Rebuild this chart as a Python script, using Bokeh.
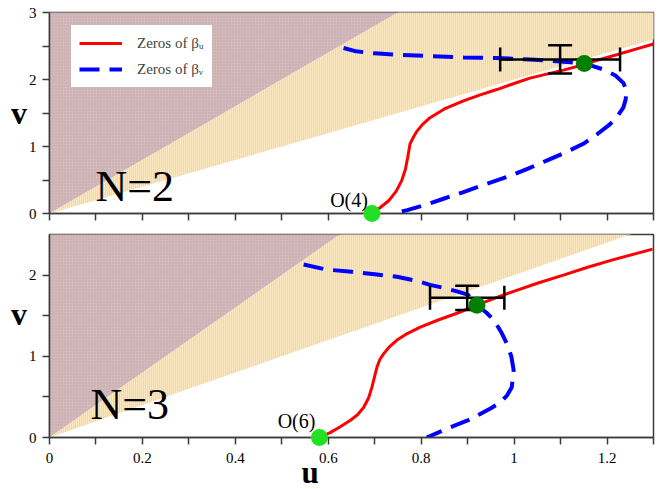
from bokeh.plotting import figure
from bokeh.layouts import column
from bokeh.models import (ColumnDataSource, FixedTicker, Whisker, TeeHead, Label, Title,
                          Legend, LegendItem, NumeralTickFormatter)
from bokeh.embed import file_html
from bokeh.resources import INLINE
from bokeh.core.properties import value

# Wedge boundaries v = slope * u
upper_slope = 4.0
lower_slope = 2.0

# Axis ticks
u_major = [0, 0.2, 0.4, 0.6, 0.8, 1.0, 1.2]
u_minor = [0.1, 0.3, 0.5, 0.7, 0.9, 1.1, 1.3]
v_major_n2 = [0, 1, 2, 3]
v_minor_n2 = [0.5, 1.5, 2.5]
v_major_n3 = [0, 1, 2]
v_minor_n3 = [0.5, 1.5]

# ---- N = 2 ----
n2_red_u = [0.694, 0.712, 0.730, 0.746, 0.758, 0.766, 0.771, 0.776, 0.784, 0.791, 0.803,
            0.819, 0.850, 0.891, 0.927, 0.963, 1.000, 1.034, 1.070, 1.106, 1.149, 1.185,
            1.221, 1.260, 1.300]
n2_red_v = [0.00, 0.09, 0.19, 0.33, 0.49, 0.66, 0.84, 1.04, 1.15, 1.23, 1.33,
            1.43, 1.56, 1.68, 1.77, 1.85, 1.94, 2.02, 2.08, 2.14, 2.22, 2.30,
            2.37, 2.45, 2.53]
n2_blue_u = [0.633, 0.660, 0.700, 0.748, 0.820, 0.891, 0.960, 1.034, 1.100, 1.151, 1.192,
             1.218, 1.235, 1.242, 1.240, 1.235, 1.222, 1.206, 1.180, 1.149, 1.110, 1.070,
             1.030, 0.991, 0.940, 0.891, 0.848, 0.805, 0.770, 0.740]
n2_blue_v = [2.47, 2.42, 2.39, 2.37, 2.35, 2.33, 2.32, 2.30, 2.27, 2.24, 2.15,
             2.06, 1.95, 1.83, 1.70, 1.58, 1.45, 1.33, 1.19, 1.04, 0.91, 0.79,
             0.67, 0.56, 0.44, 0.32, 0.22, 0.12, 0.05, 0.00]
n2_origin = (0.694, 0.0)
n2_fixed = (1.151, 2.24)
n2_est = (1.099, 2.30)
n2_err = (0.129, 0.21)

# ---- N = 3 ----
n3_red_u = [0.581, 0.604, 0.625, 0.647, 0.663, 0.676, 0.687, 0.694, 0.700, 0.705, 0.711,
            0.719, 0.732, 0.748, 0.770, 0.798, 0.838, 0.877, 0.920, 0.960, 0.999, 1.050,
            1.106, 1.160, 1.214, 1.298]
n3_red_v = [0.00, 0.06, 0.13, 0.21, 0.28, 0.37, 0.49, 0.62, 0.76, 0.87, 0.96,
            1.03, 1.12, 1.20, 1.28, 1.36, 1.45, 1.53, 1.63, 1.72, 1.80, 1.90,
            2.00, 2.10, 2.19, 2.32]
n3_blue_u = [0.547, 0.594, 0.650, 0.700, 0.748, 0.790, 0.819, 0.850, 0.877, 0.900, 0.920,
             0.940, 0.956, 0.972, 0.984, 0.994, 0.999, 0.995, 0.985, 0.970, 0.950, 0.927,
             0.900, 0.869, 0.840, 0.812]
n3_blue_v = [2.13, 2.07, 2.04, 2.01, 1.98, 1.93, 1.88, 1.84, 1.80, 1.76, 1.63,
             1.54, 1.45, 1.30, 1.16, 1.00, 0.83, 0.62, 0.52, 0.43, 0.36, 0.29,
             0.21, 0.14, 0.07, 0.00]
n3_origin = (0.581, 0.0)
n3_fixed = (0.920, 1.63)
n3_est = (0.899, 1.72)
n3_err = (0.080, 0.15)

SERIF = "Liberation Serif"
FRAME = "#3c3c3c"
RED = "#ff0000"
BLUE = "#0000ff"
LIME = "#22e022"
DARK_GREEN = "#008000"


def make_panel(v_top, v_major, v_minor, frame_h, top_border, bottom_border, show_u_labels, v_label):
    p = figure(x_range=(0, 1.3), y_range=(0, v_top), frame_width=604, frame_height=frame_h,
               min_border_left=49, min_border_right=7, min_border_top=top_border,
               min_border_bottom=bottom_border, output_backend="svg", toolbar_location=None,
               background_fill_color="white", border_fill_color="white")
    p.grid.visible = False
    p.outline_line_color = FRAME
    p.outline_line_width = 1.5

    if show_u_labels:
        p.xaxis.ticker = FixedTicker(ticks=u_major, minor_ticks=u_minor)
        p.xaxis.formatter = NumeralTickFormatter(format="0.[0]")
    else:
        p.xaxis.ticker = FixedTicker(ticks=[], minor_ticks=u_major + u_minor)
    p.yaxis.ticker = FixedTicker(ticks=v_major, minor_ticks=v_minor)
    p.yaxis.formatter = NumeralTickFormatter(format="0")

    for ax in (p.xaxis[0], p.yaxis[0]):
        ax.axis_line_color = FRAME
        ax.axis_line_width = 1.5
        ax.major_tick_line_color = FRAME
        ax.minor_tick_line_color = FRAME
        ax.major_tick_line_width = 1.5
        ax.minor_tick_line_width = 1.5
        ax.major_tick_in = 0
        ax.minor_tick_in = 0
        ax.major_tick_out = 7
        ax.minor_tick_out = 7
        ax.major_label_text_font = SERIF
        ax.major_label_text_font_size = "15px"
        ax.major_label_text_color = "black"
    p.xaxis.major_label_standoff = 8
    p.yaxis.major_label_standoff = 6

    # vertical-axis name, written upright
    p.yaxis.axis_label = v_label
    p.yaxis.axis_label_orientation = "horizontal"
    p.yaxis.axis_label_standoff = -1
    p.yaxis.axis_label_text_font = SERIF
    p.yaxis.axis_label_text_font_size = "32px"
    p.yaxis.axis_label_text_font_style = "bold"
    p.yaxis.axis_label_text_color = "black"

    # shaded wedges, clipped by the frame
    far = 2.0
    p.patch([0, far, 0], [0, upper_slope * far, upper_slope * far],
            fill_color="#d3b9bc", line_color=None,
            hatch_pattern="dot", hatch_color="#b3969a", hatch_scale=3, hatch_weight=1.2,
            hatch_alpha=0.5)
    p.patch([0, far, far], [0, lower_slope * far, upper_slope * far],
            fill_color="#fbe8c0", line_color=None,
            hatch_pattern="vertical_line", hatch_color="#efbb5e", hatch_scale=2,
            hatch_weight=1.0, hatch_alpha=0.75)
    return p


def add_curves(p, ru, rv, bu, bv, origin, fixed, est, err, tag, tag_dy):
    r_red = p.line(ru, rv, line_color=RED, line_width=3)
    r_blue = p.line(bu, bv, line_color=BLUE, line_width=4, line_dash="20 10")

    src = ColumnDataSource(dict(u=[est[0]], v=[est[1]],
                                ulo=[est[0] - err[0]], uhi=[est[0] + err[0]],
                                vlo=[est[1] - err[1]], vhi=[est[1] + err[1]]))
    for dim, base, lo, hi in (("width", "v", "ulo", "uhi"), ("height", "u", "vlo", "vhi")):
        w = Whisker(base=base, lower=lo, upper=hi, dimension=dim, source=src,
                    line_color="black", line_width=2.5, level="annotation",
                    upper_head=TeeHead(size=24, line_width=2.5, line_color="black"),
                    lower_head=TeeHead(size=24, line_width=2.5, line_color="black"))
        p.add_layout(w)

    p.scatter([origin[0]], [origin[1]], size=17, fill_color=LIME, line_color=None, level="overlay")
    p.scatter([fixed[0]], [fixed[1]], size=17, fill_color=DARK_GREEN, line_color=None, level="overlay")
    p.text([origin[0]], [origin[1]], text=[tag], text_align="right", text_baseline="alphabetic",
           x_offset=-4, y_offset=tag_dy, text_font=value(SERIF), text_font_size="20px",
           text_color="black", level="overlay")
    return r_red, r_blue


top = make_panel(3, v_major_n2, v_minor_n2, 201, 12, 12, False, "v")
red2, blue2 = add_curves(top, n2_red_u, n2_red_v, n2_blue_u, n2_blue_v,
                         n2_origin, n2_fixed, n2_est, n2_err, "O(4)", -14)
top.add_layout(Label(x=0.099, y=0.41, text="N=2", text_font=SERIF, text_font_size="44px",
                     text_baseline="alphabetic", text_color="black"))

legend = Legend(items=[LegendItem(label="Zeros of βᵤ", renderers=[red2]),
                       LegendItem(label="Zeros of βᵥ", renderers=[blue2])],
                location=(22, 126), label_text_font=SERIF, label_text_font_size="15px",
                glyph_width=43, glyph_height=20, label_height=20, label_standoff=15,
                padding=8, spacing=6, margin=0, border_line_alpha=0,
                background_fill_color="white", background_fill_alpha=1.0)
top.add_layout(legend)

# the lower panel's "v" sits a little above the middle of its axis
bottom = make_panel(2.5, v_major_n3, v_minor_n3, 203, 9, 52, True, "v\n")
add_curves(bottom, n3_red_u, n3_red_v, n3_blue_u, n3_blue_v,
           n3_origin, n3_fixed, n3_est, n3_err, "O(6)", -17)
bottom.add_layout(Label(x=0.088, y=0.41, text="N=3", text_font=SERIF, text_font_size="44px",
                        text_baseline="alphabetic", text_color="black"))

# horizontal-axis name, set left of centre and tucked up against the tick labels
bottom.add_layout(Title(text="u", align="left", offset=252, standoff=-21, vertical_align="top",
                        text_font=SERIF, text_font_size="31px", text_font_style="bold",
                        text_color="black"), "below")

layout = column(top, bottom, spacing=0)
with open("out.html", "w") as f:
    f.write(file_html(layout, INLINE))
